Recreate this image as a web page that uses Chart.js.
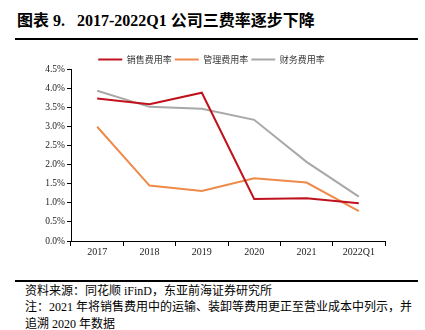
<!DOCTYPE html>
<html>
<head>
<meta charset="utf-8">
<script src="https://cdn.jsdelivr.net/npm/chart.js@4/dist/chart.umd.min.js"></script>
<style>
  body { margin: 0; background: #fff; }
  #wrap { position: relative; width: 425px; height: 330px; overflow: hidden; }
  #title { position: absolute; left: 17px; top: 7px; height: 24px; line-height: 24px; font: bold 16px "Liberation Serif", "Noto Sans CJK SC", serif; color: #000; white-space: nowrap; }
  #title .cjk { font-family: "Noto Sans CJK SC", sans-serif; }
  .rule { position: absolute; left: 15px; width: 403px; height: 2px; background: #000; }
  #box { position: absolute; left: 0; top: 40px; width: 425px; height: 240px; }
  #note { position: absolute; left: 25px; top: 282px; font: 12px "Liberation Serif", "Noto Sans CJK SC", serif; color: #000; white-space: nowrap; }
  #note div { height: 16.3px; line-height: 16.3px; overflow: visible; }
  #note .cjk { font-family: "Noto Sans CJK SC", sans-serif; }
</style>
</head>
<body>
<div id="wrap">
  <div id="title"><span class="cjk">图表</span> 9.&nbsp;&nbsp; 2017-2022Q1 <span class="cjk">公司三费率逐步下降</span></div>
  <div class="rule" style="top:38px"></div>
  <div id="box"><canvas id="myChart" width="425" height="240"></canvas></div>
  <div class="rule" style="top:280px;height:1.5px"></div>
  <div id="note">
    <div><span class="cjk">资料来源：同花顺</span> iFinD<span class="cjk">，东亚前海证券研究所</span></div>
    <div><span class="cjk">注：</span>2021 <span class="cjk">年将销售费用中的运输、装卸等费用更正至营业成本中列示，并</span></div>
    <div><span class="cjk">追溯</span> 2020 <span class="cjk">年数据</span></div>
  </div>
</div>
<script>
// 年份与三项费用率（%）
const years = ['2017', '2018', '2019', '2020', '2021', '2022Q1'];
const salesRate = [3.73, 3.58, 3.88, 1.10, 1.12, 0.99];
const adminRate = [2.99, 1.45, 1.31, 1.64, 1.53, 0.78];
const financeRate = [3.93, 3.51, 3.46, 3.17, 2.07, 1.16];
const yTicks = [0, 0.5, 1, 1.5, 2, 2.5, 3, 3.5, 4, 4.5];

const serif = '"Liberation Serif", serif';

// 图例高度收紧一点，让绘图区更贴近图例；图例整体右移到绘图区上方居中
const legendFit = {
  id: 'legendFit',
  beforeInit(chart) {
    const legend = chart.legend;
    const fit = legend.fit;
    const draw = legend.draw;
    legend.fit = function () {
      fit.call(this);
      this.height -= 5;
    };
    legend.draw = function () {
      const c = this.ctx;
      c.save();
      c.translate(19, 0);
      draw.call(this);
      c.restore();
    };
  }
};

const ctx = document.getElementById('myChart').getContext('2d');
new Chart(ctx, {
  type: 'line',
  data: {
    labels: years,
    datasets: [
      { label: '销售费用率', data: salesRate, borderColor: '#c0121c', backgroundColor: '#c0121c' },
      { label: '管理费用率', data: adminRate, borderColor: '#ee8a4a', backgroundColor: '#ee8a4a' },
      { label: '财务费用率', data: financeRate, borderColor: '#a8a8a8', backgroundColor: '#a8a8a8' }
    ]
  },
  plugins: [legendFit],
  options: {
    responsive: false,
    animation: false,
    layout: { padding: { left: 0, right: 40, top: 12, bottom: 0 } },
    elements: {
      line: { borderWidth: 2, tension: 0 },
      point: { radius: 0, hoverRadius: 0 }
    },
    plugins: {
      tooltip: { enabled: false },
      legend: {
        position: 'top',
        align: 'center',
        labels: {
          usePointStyle: true,
          pointStyle: 'line',
          pointStyleWidth: 24,
          boxHeight: 2,
          padding: 3,
          color: '#333',
          font: { family: '"Noto Sans CJK SC", sans-serif', size: 9 },
          generateLabels: chart => Chart.defaults.plugins.legend.labels.generateLabels(chart)
            .map(item => Object.assign(item, { lineWidth: 2 }))
        }
      }
    },
    scales: {
      x: {
        offset: true,
        grid: { offset: true, drawOnChartArea: false, drawTicks: true, tickLength: 5, color: '#000' },
        border: { color: '#000', width: 1 },
        ticks: { color: '#222', padding: 0, font: { family: serif, size: 10 } },
        afterFit: s => { s.height = 39; }
      },
      y: {
        min: 0,
        max: 4.5,
        afterBuildTicks: s => { s.ticks = yTicks.map(v => ({ value: v })); },
        grid: { drawOnChartArea: false, drawTicks: true, tickLength: 4, color: '#000' },
        border: { color: '#000', width: 1 },
        ticks: {
          color: '#222',
          padding: 2,
          font: { family: serif, size: 9.5 },
          callback: v => v.toFixed(1) + '%'
        },
        afterFit: s => { s.width = 71; }
      }
    }
  }
});
</script>
</body>
</html>
